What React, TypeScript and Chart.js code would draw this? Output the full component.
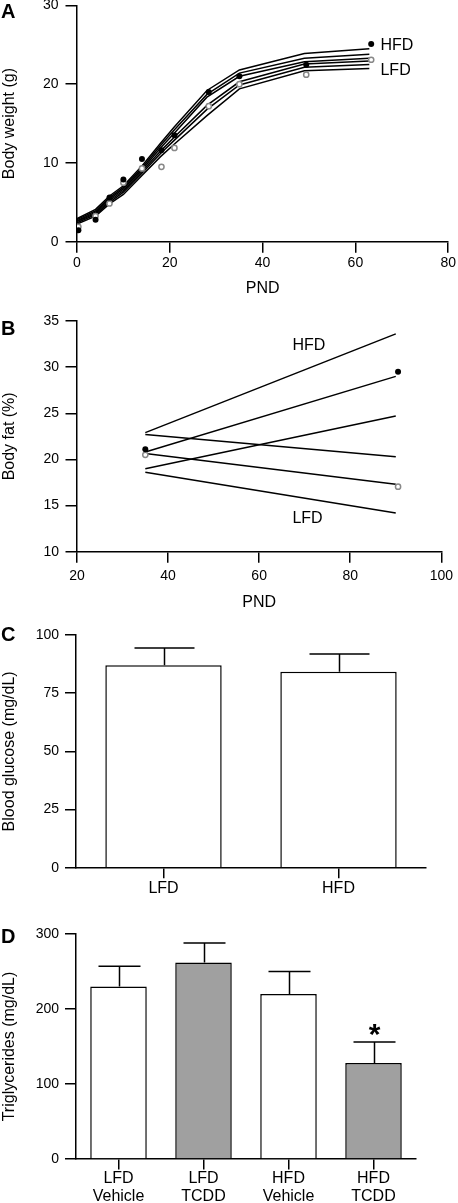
import React, { useEffect, useRef } from "react";
import { Chart, registerables } from "chart.js";

Chart.register(...registerables);

const FONT = '"Liberation Sans", Arial, Helvetica, sans-serif';
Chart.defaults.font.family = FONT;
Chart.defaults.color = "#000";

// ---------- Panel A: body weight ----------
const pndA = [0, 4, 7, 10, 14, 18, 21, 28, 35, 49, 63];
const fitA1 = [2.95, 4.1, 5.8, 7.1, 9.6, 12.5, 14.6, 19.2, 21.8, 23.9, 24.5];
const fitA2 = [2.8, 3.9, 5.6, 6.9, 9.35, 12.2, 14.2, 18.7, 21.4, 23.3, 23.8];
const fitA3 = [2.65, 3.75, 5.4, 6.7, 9.15, 11.9, 13.8, 18.35, 21.0, 22.85, 23.3];
const fitA4 = [2.55, 3.6, 5.2, 6.5, 8.9, 11.5, 13.3, 17.3, 20.3, 22.55, 22.95];
const fitA5 = [2.4, 3.45, 5.0, 6.3, 8.7, 11.2, 12.9, 16.8, 19.9, 22.15, 22.5];
const fitA6 = [2.25, 3.25, 4.8, 6.0, 8.4, 10.8, 12.4, 16.0, 19.4, 21.7, 22.0];
const ptsXA = [0.3, 4, 7, 10, 14, 18.2, 21, 28.4, 35, 49.4, 63.4];
const hfdA = [1.45, 2.8, 5.6, 7.9, 10.5, 11.6, 13.5, 19.0, 21.0, 22.45, 25.1];
const lfdA = [1.9, 3.25, 4.85, 7.5, 9.3, 9.5, 11.9, 17.2, 20.0, 21.2, 23.1];
const xTicksA = [0, 80, 20];
const yTicksA = [0, 30, 10];

// ---------- Panel B: body fat ----------
const pndB = [35, 90];
const fitB1 = [22.9, 33.6];
const fitB2 = [20.8, 29.0];
const fitB3 = [19.0, 24.7];
const fitB4 = [22.7, 20.3];
const fitB5 = [20.65, 17.3];
const fitB6 = [18.6, 14.2];
const ptsXB = [35, 90.5];
const hfdB = [21.1, 29.5];
const lfdB = [20.5, 17.05];
const xTicksB = [20, 100, 20];
const yTicksB = [10, 35, 5];

// ---------- Panel C: blood glucose ----------
const catsC = ["LFD", "HFD"];
const meanC = [87, 84.2];
const semC = [7.4, 7.6];
const yTicksC = [0, 100, 25];

// ---------- Panel D: triglycerides ----------
const catsD = [["LFD", "Vehicle"], ["LFD", "TCDD"], ["HFD", "Vehicle"], ["HFD", "TCDD"]];
const meanD = [230, 262, 220, 128];
const semD = [27, 26, 30, 28];
const colorsD = ["#ffffff", "#a0a0a0", "#ffffff", "#a0a0a0"];
const sigD = ["", "", "", "*"];
const yTicksD = [0, 300, 100];

const W = 458;

const axisGrid = (tickLength: number) => ({
  drawOnChartArea: false,
  drawTicks: true,
  tickLength,
  tickWidth: 1.5,
  tickColor: "#000",
  color: "#000",
  lineWidth: 1.5,
});
const axisBorder = { display: true, color: "#000", width: 1.5 };

function textPlugin(letter: string, letterY: number, notes: { text: string; x: number; y: number }[]) {
  return {
    id: "texts",
    afterDraw(chart: any) {
      const ctx = chart.ctx;
      ctx.save();
      ctx.fillStyle = "#000";
      ctx.font = `bold 20px ${FONT}`;
      ctx.textAlign = "left";
      ctx.textBaseline = "alphabetic";
      ctx.fillText(letter, 1, letterY);
      ctx.font = `16px ${FONT}`;
      ctx.textBaseline = "middle";
      notes.forEach((n) => {
        const px = chart.scales.x.getPixelForValue(n.x);
        const py = chart.scales.y.getPixelForValue(n.y);
        ctx.fillText(n.text, px, py);
      });
      ctx.restore();
    },
  };
}

function errorPlugin(means: number[], sems: number[], capHalf: number, marks?: string[]) {
  return {
    id: "errbars",
    afterDatasetsDraw(chart: any) {
      const meta = chart.getDatasetMeta(0);
      const ys = chart.scales.y;
      const ctx = chart.ctx;
      ctx.save();
      ctx.strokeStyle = "#000";
      ctx.lineWidth = 1.5;
      meta.data.forEach((bar: any, i: number) => {
        const top = ys.getPixelForValue(means[i] + sems[i]);
        const x = Math.round(bar.x) + 0.5;
        ctx.beginPath();
        ctx.moveTo(x, bar.y);
        ctx.lineTo(x, top);
        ctx.moveTo(x - capHalf, top);
        ctx.lineTo(x + capHalf, top);
        ctx.stroke();
        if (marks && marks[i]) {
          ctx.fillStyle = "#000";
          ctx.font = `bold 30px ${FONT}`;
          ctx.textAlign = "center";
          ctx.textBaseline = "alphabetic";
          ctx.fillText(marks[i], x, top + 2);
        }
      });
      ctx.restore();
    },
  };
}

const lineDs = (xs: number[], ys: number[]) => ({
  type: "line",
  data: xs.map((x, i) => ({ x, y: ys[i] })),
  borderColor: "#000",
  borderWidth: 1.5,
  pointRadius: 0,
  tension: 0,
  fill: false,
});
const filledDs = (xs: number[], ys: number[]) => ({
  type: "scatter",
  data: xs.map((x, i) => ({ x, y: ys[i] })),
  pointRadius: 3,
  pointBackgroundColor: "#000",
  pointBorderColor: "#000",
  pointBorderWidth: 0,
  showLine: false,
});
const openDs = (xs: number[], ys: number[]) => ({
  type: "scatter",
  data: xs.map((x, i) => ({ x, y: ys[i] })),
  pointRadius: 2.6,
  pointBackgroundColor: "#fff",
  pointBorderColor: "#888",
  pointBorderWidth: 1.5,
  showLine: false,
});

function linearPanel(opts: {
  xs: number[][];
  fits: number[][];
  ptsX: number[];
  hfd: number[];
  lfd: number[];
  xT: number[];
  yT: number[];
  yTitle: string;
  padTop: number;
  padRight: number;
  yWidth: number;
  xHeight: number;
  xPad: number;
  yPad: number;
  letter: string;
  letterY: number;
  notes: { text: string; x: number; y: number }[];
}) {
  return {
    type: "line",
    data: {
      datasets: [
        filledDs(opts.ptsX, opts.hfd),
        openDs(opts.ptsX, opts.lfd),
        ...opts.fits.map((f, i) => lineDs(opts.xs[i], f)),
      ],
    },
    options: {
      animation: false,
      responsive: false,
      devicePixelRatio: 1,
      layout: { padding: { left: 0, right: opts.padRight, top: opts.padTop, bottom: 0 } },
      plugins: { legend: { display: false }, tooltip: { enabled: false } },
      scales: {
        x: {
          type: "linear",
          min: opts.xT[0],
          max: opts.xT[1],
          ticks: { stepSize: opts.xT[2], font: { size: 14 }, padding: opts.xPad, color: "#000" },
          grid: axisGrid(11),
          border: axisBorder,
          title: { display: true, text: "PND", font: { size: 16 }, padding: 0, color: "#000" },
          afterFit: (s: any) => {
            s.height = opts.xHeight;
          },
        },
        y: {
          type: "linear",
          min: opts.yT[0],
          max: opts.yT[1],
          ticks: { stepSize: opts.yT[2], font: { size: 14 }, padding: opts.yPad, color: "#000" },
          grid: axisGrid(11.5),
          border: axisBorder,
          title: { display: true, text: opts.yTitle, font: { size: 16 }, padding: 0, color: "#000" },
          afterFit: (s: any) => {
            s.width = opts.yWidth;
          },
        },
      },
    },
    plugins: [textPlugin(opts.letter, opts.letterY, opts.notes)],
  };
}

function barPanel(opts: {
  cats: any[];
  means: number[];
  sems: number[];
  colors: string[];
  yT: number[];
  yTitle: string;
  padTop: number;
  padRight: number;
  yWidth: number;
  xHeight: number;
  xPad: number;
  yPad: number;
  capHalf: number;
  marks?: string[];
  lineHeight: number;
  letter: string;
  letterY: number;
}) {
  return {
    type: "bar",
    data: {
      labels: opts.cats,
      datasets: [
        {
          data: opts.means,
          backgroundColor: opts.colors,
          borderColor: "#000",
          borderWidth: 1.5,
          borderSkipped: "start",
          barPercentage: 0.665,
          categoryPercentage: 1,
        },
      ],
    },
    options: {
      animation: false,
      responsive: false,
      devicePixelRatio: 1,
      layout: { padding: { left: 0, right: opts.padRight, top: opts.padTop, bottom: 0 } },
      plugins: { legend: { display: false }, tooltip: { enabled: false } },
      scales: {
        x: {
          type: "category",
          ticks: { font: { size: 16, lineHeight: opts.lineHeight }, padding: opts.xPad, color: "#000" },
          grid: { ...axisGrid(10.5), offset: false },
          border: axisBorder,
          afterFit: (s: any) => {
            s.height = opts.xHeight;
          },
        },
        y: {
          type: "linear",
          min: opts.yT[0],
          max: opts.yT[1],
          ticks: { stepSize: opts.yT[2], font: { size: 14 }, padding: opts.yPad, color: "#000" },
          grid: axisGrid(11),
          border: axisBorder,
          title: { display: true, text: opts.yTitle, font: { size: 16 }, padding: 0, color: "#000" },
          afterFit: (s: any) => {
            s.width = opts.yWidth;
          },
        },
      },
    },
    plugins: [errorPlugin(opts.means, opts.sems, opts.capHalf, opts.marks), textPlugin(opts.letter, opts.letterY, [])],
  };
}

function Panel({ top, height, make }: { top: number; height: number; make: () => any }) {
  const ref = useRef<HTMLCanvasElement>(null);
  useEffect(() => {
    const chart = new Chart(ref.current as HTMLCanvasElement, make());
    return () => chart.destroy();
  }, []);
  return (
    <div style={{ position: "absolute", left: 0, top, width: W, height }}>
      <canvas ref={ref} width={W} height={height} style={{ display: "block", width: W, height }} />
    </div>
  );
}

export default function App() {
  return (
    <div style={{ position: "absolute", left: 0, top: 0, width: W, height: 1203, overflow: "hidden", background: "#fff" }}>
      <Panel
        top={-10}
        height={308}
        make={() =>
          linearPanel({
            xs: [pndA, pndA, pndA, pndA, pndA, pndA],
            fits: [fitA1, fitA2, fitA3, fitA4, fitA5, fitA6],
            ptsX: ptsXA,
            hfd: hfdA,
            lfd: lfdA,
            xT: xTicksA,
            yT: yTicksA,
            yTitle: "Body weight (g)",
            padTop: 14.7,
            padRight: W - 449,
            yWidth: 77,
            xHeight: 56.3,
            xPad: 2,
            yPad: 7,
            letter: "A",
            letterY: 27.5,
            notes: [
              { text: "HFD", x: 65.4, y: 24.9 },
              { text: "LFD", x: 65.4, y: 21.7 },
            ],
          })
        }
      />
      <Panel
        top={300}
        height={312}
        make={() =>
          linearPanel({
            xs: [pndB, pndB, pndB, pndB, pndB, pndB],
            fits: [fitB1, fitB2, fitB3, fitB4, fitB5, fitB6],
            ptsX: ptsXB,
            hfd: hfdB,
            lfd: lfdB,
            xT: xTicksB,
            yT: yTicksB,
            yTitle: "Body fat (%)",
            padTop: 21,
            padRight: W - 442,
            yWidth: 77,
            xHeight: 60.3,
            xPad: 5,
            yPad: 6.5,
            letter: "B",
            letterY: 35,
            notes: [
              { text: "HFD", x: 67.3, y: 32.3 },
              { text: "LFD", x: 67.3, y: 13.6 },
            ],
          })
        }
      />
      <Panel
        top={620}
        height={285}
        make={() =>
          barPanel({
            cats: catsC,
            means: meanC,
            sems: semC,
            colors: ["#ffffff", "#ffffff"],
            yT: yTicksC,
            yTitle: "Blood glucose (mg/dL)",
            padTop: 15,
            padRight: W - 426,
            yWidth: 76,
            xHeight: 37.3,
            xPad: 1,
            yPad: 6,
            capHalf: 30,
            lineHeight: 1.2,
            letter: "C",
            letterY: 20.5,
          })
        }
      />
      <Panel
        top={915}
        height={288}
        make={() =>
          barPanel({
            cats: catsD,
            means: meanD,
            sems: semD,
            colors: colorsD,
            yT: yTicksD,
            yTitle: "Triglycerides (mg/dL)",
            padTop: 19,
            padRight: W - 416,
            yWidth: 76,
            xHeight: 44,
            xPad: 0,
            yPad: 6,
            capHalf: 21,
            marks: sigD,
            lineHeight: 1.125,
            letter: "D",
            letterY: 27.5,
          })
        }
      />
    </div>
  );
}
